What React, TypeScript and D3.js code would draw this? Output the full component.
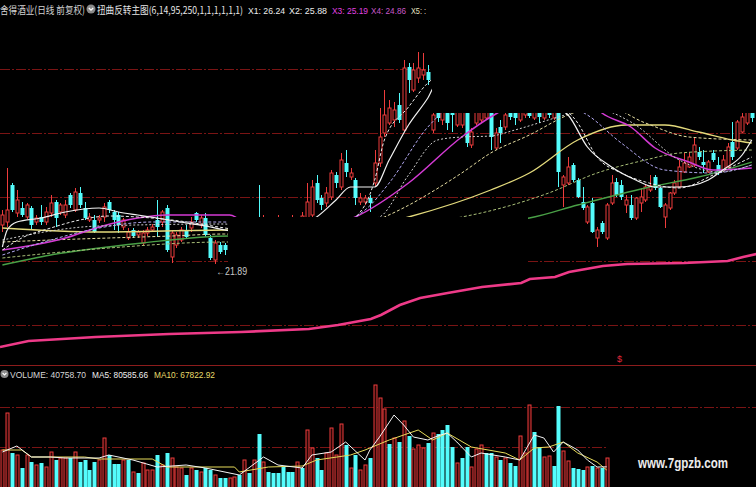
import React from "react";
import * as d3 from "d3";

const WIDTH = 756;
const HEIGHT = 487;

// daily K-line: [open, high, low, close]
const candles: [number, number, number, number][] = [
  [23.45, 24.05, 23.17, 23.85], [23.57, 25.73, 23.37, 24.05], [25.05, 25.13, 23.97, 24.05], [23.93, 24.85, 23.77, 24.45],
  [24.13, 24.37, 23.77, 23.85], [23.77, 24.33, 23.69, 24.25], [24.13, 24.21, 23.25, 23.45], [23.57, 23.85, 23.45, 23.73],
  [23.77, 24.25, 23.45, 23.57], [23.57, 24.17, 23.45, 23.97], [23.93, 24.65, 23.77, 24.33], [24.37, 24.45, 23.37, 23.73],
  [23.97, 24.33, 23.85, 24.25], [23.85, 24.45, 23.73, 24.25], [24.65, 24.73, 24.13, 24.25], [24.05, 24.93, 23.97, 24.77],
  [24.73, 24.97, 24.13, 24.25], [24.13, 24.37, 23.65, 23.73], [23.65, 23.93, 23.57, 23.77], [23.65, 23.85, 23.13, 23.17],
  [23.65, 23.85, 23.53, 23.73], [23.77, 24.33, 23.57, 24.17], [24.37, 24.45, 23.93, 24.05], [23.97, 24.05, 23.25, 23.65],
  [23.85, 23.97, 23.13, 23.45], [23.37, 23.73, 23.25, 23.65], [22.93, 23.33, 22.85, 23.17], [23.25, 23.33, 22.93, 23.01],
  [23.05, 23.25, 22.93, 23.17], [22.73, 23.25, 22.65, 23.13], [23.13, 23.37, 23.01, 23.25], [23.25, 23.49, 23.17, 23.37],
  [23.65, 24.45, 22.97, 23.37], [23.57, 24.05, 23.37, 23.97], [24.13, 24.25, 22.37, 22.45], [22.17, 23.25, 21.93, 23.13],
  [22.65, 23.17, 22.53, 23.05], [22.85, 23.37, 22.77, 23.25], [23.25, 23.45, 22.93, 22.97], [23.33, 23.77, 23.17, 23.57],
  [23.93, 23.97, 23.57, 23.65], [23.45, 23.85, 23.33, 23.73], [23.73, 23.93, 22.97, 23.05], [22.93, 23.05, 22.05, 22.13],
  [22.05, 22.85, 21.89, 22.73], [22.65, 22.77, 22.29, 22.37], [22.65, 22.73, 22.25, 22.45], [22.45, 23.05, 22.25, 22.85],
  [22.85, 23.13, 22.37, 22.53], [22.53, 23.25, 22.45, 22.93], [22.85, 23.45, 22.73, 23.17], [23.17, 23.41, 22.65, 22.77],
  [22.77, 23.57, 22.65, 23.25], [23.17, 25.05, 22.77, 22.93], [22.93, 23.85, 22.85, 23.33], [23.33, 23.65, 22.85, 23.05],
  [23.01, 23.61, 22.93, 23.33], [23.25, 23.85, 23.13, 23.45], [23.45, 23.65, 23.01, 23.17], [23.17, 23.65, 23.01, 23.41],
  [23.33, 23.85, 23.17, 23.57], [23.49, 23.69, 23.09, 23.25], [23.25, 23.97, 23.05, 23.81], [23.45, 25.13, 23.25, 24.37],
  [23.85, 25.25, 23.73, 24.97], [25.13, 25.45, 24.33, 24.45], [24.53, 24.65, 24.05, 24.25], [24.33, 24.97, 24.17, 24.73],
  [24.57, 25.65, 24.45, 25.53], [25.45, 25.57, 24.93, 25.13], [24.97, 26.33, 24.85, 26.05], [25.93, 26.45, 25.37, 25.57],
  [25.37, 25.73, 25.25, 25.53], [25.25, 25.33, 24.25, 24.53], [24.37, 24.73, 24.25, 24.53], [24.37, 24.65, 24.25, 24.53],
  [24.53, 24.65, 23.97, 24.33], [25.13, 26.45, 24.97, 25.93], [25.93, 28.13, 25.77, 26.97], [27.13, 28.85, 26.97, 27.85],
  [27.53, 28.45, 27.45, 28.13], [27.65, 28.37, 27.37, 28.05], [28.25, 28.73, 27.53, 27.65], [27.25, 30.05, 27.17, 29.73],
  [29.77, 29.93, 28.73, 29.25], [28.85, 29.93, 28.77, 29.65], [29.33, 30.37, 29.13, 29.73], [29.45, 30.33, 29.25, 29.65],
  [29.57, 29.85, 29.05, 29.25], [27.25, 28.25, 27.13, 27.85], [28.13, 28.45, 27.57, 27.73], [27.65, 28.45, 27.45, 27.97],
  [28.25, 28.65, 27.25, 27.53], [28.13, 28.45, 27.17, 27.85], [27.45, 28.45, 27.37, 28.05], [27.45, 28.45, 27.33, 27.97],
  [28.05, 28.25, 26.57, 26.73], [26.65, 27.33, 26.53, 27.17], [27.53, 28.45, 27.45, 28.13], [27.65, 28.45, 27.57, 28.05],
  [27.73, 28.45, 27.65, 28.13], [28.25, 28.45, 26.45, 26.97], [26.53, 27.33, 26.45, 27.13], [27.37, 27.65, 26.73, 27.13],
  [27.37, 28.25, 27.25, 27.85], [28.05, 28.25, 27.65, 27.77], [27.97, 28.13, 27.45, 27.73], [27.65, 28.45, 27.57, 28.05],
  [27.85, 28.53, 27.73, 28.25], [28.13, 28.45, 27.73, 27.81], [27.73, 28.45, 27.65, 28.13], [28.05, 28.37, 27.53, 27.77],
  [27.73, 28.45, 27.65, 28.13], [28.25, 28.45, 27.73, 27.85], [27.73, 28.45, 27.65, 28.13], [28.25, 28.45, 24.97, 25.57],
  [25.05, 25.45, 24.17, 25.37], [25.13, 26.17, 25.05, 25.77], [25.85, 25.93, 25.17, 25.25], [25.25, 25.33, 24.53, 24.57],
  [24.37, 24.97, 24.05, 24.13], [23.57, 24.25, 23.49, 24.17], [24.33, 24.53, 23.13, 23.17], [22.93, 23.37, 22.57, 23.25],
  [23.53, 23.61, 23.09, 23.17], [22.93, 24.33, 22.85, 24.25], [24.33, 25.45, 24.25, 25.13], [25.17, 25.33, 24.57, 24.65],
  [25.05, 25.25, 24.45, 24.57], [24.25, 24.65, 23.93, 24.45], [24.25, 24.65, 23.65, 23.73], [23.73, 24.57, 23.65, 24.53],
  [24.33, 24.93, 23.97, 24.57], [24.45, 25.05, 24.37, 24.97], [24.85, 25.45, 24.77, 25.01], [25.37, 25.45, 24.85, 24.93],
  [24.93, 24.97, 24.13, 24.17], [23.77, 24.33, 23.33, 24.25], [24.13, 24.77, 24.05, 24.73], [24.73, 25.25, 24.65, 25.13],
  [24.97, 26.05, 24.93, 25.77], [25.57, 26.33, 25.53, 25.93], [25.77, 26.37, 25.73, 26.17], [25.85, 26.97, 25.77, 26.65],
  [26.37, 26.57, 26.05, 26.17], [25.97, 26.45, 25.53, 25.85], [25.57, 26.05, 25.53, 25.97], [26.33, 26.45, 25.97, 26.05],
  [25.85, 26.17, 25.45, 25.57], [25.65, 26.25, 25.57, 26.05], [25.77, 26.73, 25.73, 26.57], [26.77, 27.57, 26.05, 26.17],
  [26.53, 27.65, 26.45, 27.57], [27.17, 27.93, 27.13, 27.77], [27.53, 28.45, 27.45, 28.13], [28.13, 28.45, 27.57, 27.73],
];

// indicator lines as [bar index, price] samples
const lineFastSolid: [number, number][] = [
  [0, 22.57], [1, 23.25], [3, 23.57], [8, 23.73], [13, 23.97], [20, 24.13], [24, 23.97], [28, 23.85], [32, 23.73],
  [38, 23.53], [42, 23.41], [46, 23.25], [53, 23.09], [59, 23.25], [62, 23.45], [65, 23.77], [69, 24.45], [72, 24.97],
  [77, 24.97], [80, 26.05], [84, 27.45], [88, 28.53], [90, 29.17], [95, 29.25], [99, 28.93], [103, 28.77], [107, 28.65],
  [112, 28.37], [117, 27.85], [121, 26.57], [126, 25.77], [131, 25.25], [135, 24.97], [140, 24.97], [146, 25.25],
  [149, 25.65], [153, 26.25], [155, 26.85],
];
const lineFastDash: [number, number][] = [
  [0, 22.45], [4, 22.93], [10, 23.33], [16, 23.65], [22, 23.81], [28, 23.77], [35, 23.65], [41, 23.49], [46, 23.33],
  [53, 23.17], [62, 23.33], [70, 23.45], [75, 24.25], [77, 25.25], [79, 26.85], [84, 28.17], [88, 29.13], [93, 29.65],
  [103, 29.45], [111, 28.65], [119, 27.53], [123, 26.17], [128, 25.53], [133, 25.17], [140, 24.93], [147, 25.45], [155, 26.17],
];
const lineLavender: [number, number][] = [
  [0, 22.25], [10, 22.85], [20, 23.33], [31, 23.57], [46, 23.57], [53, 23.05], [62, 23.05], [75, 24.05], [80, 25.13],
  [88, 27.37], [95, 28.45], [107, 28.77], [117, 28.25], [121, 27.85], [128, 26.73], [137, 25.65], [147, 25.53], [155, 25.85],
];
const lineGreyDash: [number, number][] = [
  [0, 22.85], [20, 23.41], [46, 23.49], [53, 23.01], [62, 23.09], [78, 23.77], [84, 25.45], [90, 26.85], [95, 26.97],
  [101, 27.01], [106, 27.25], [115, 27.77], [122, 28.13], [130, 27.57], [140, 26.05], [148, 25.57], [155, 25.85],
];
const lineMagenta: [number, number][] = [
  [0, 22.45], [13, 22.93], [20, 23.37], [28, 23.73], [34, 23.85], [47, 23.85], [53, 23.17], [62, 23.17], [73, 23.77],
  [84, 25.13], [95, 26.97], [101, 27.77], [109, 28.45], [121, 28.45], [124, 27.93], [130, 27.37], [135, 26.53],
  [142, 25.97], [147, 25.65], [155, 25.73],
];
const lineYellowDash: [number, number][] = [
  [0, 22.77], [10, 22.85], [22, 22.93], [35, 23.01], [46, 23.09], [53, 22.85], [68, 23.05], [79, 23.77], [95, 25.53],
  [101, 26.33], [109, 27.05], [117, 27.85], [124, 28.25], [133, 27.53], [142, 26.97], [155, 26.85],
];
const lineYellow: [number, number][] = [
  [0, 23.33], [20, 23.17], [47, 23.25], [62, 22.93], [84, 23.77], [101, 24.85], [109, 25.53], [119, 26.85], [129, 27.45],
  [137, 27.45], [144, 27.17], [151, 26.85], [155, 26.73],
];
const lineOliveDash: [number, number][] = [
  [0, 22.13], [22, 22.53], [46, 22.77], [62, 22.65], [95, 23.77], [99, 23.93], [113, 24.73], [123, 25.53], [133, 26.05],
  [140, 26.33], [155, 26.45],
];
const lineGreen: [number, number][] = [
  [0, 21.85], [10, 22.25], [29, 22.73], [47, 23.01], [62, 23.01], [82, 23.33], [99, 23.57], [109, 23.73], [119, 24.25],
  [133, 24.93], [144, 25.37], [155, 25.97],
];
const lineLong: [number, number][] = [
  [-0.5, 18.57], [5.4, 18.81], [19.3, 18.97], [34.5, 19.09], [49.3, 19.17], [63.4, 19.29], [69.4, 19.45], [76.2, 19.69],
  [78.3, 19.85], [82.2, 20.25], [86.4, 20.53], [92.1, 20.73], [99.2, 20.97], [107.3, 21.13], [109.1, 21.29], [114.3, 21.37],
  [117.2, 21.57], [124.2, 21.81], [129.2, 21.89], [141, 21.93], [150, 22.01], [153.2, 22.17], [156, 22.29],
];

// volume panel
const volumes = [
  148000, 296000, 136000, 128000, 76000, 128000, 100000, 88000, 96000, 80000,
  140000, 108000, 116000, 116000, 116000, 140000, 100000, 108000, 68000, 100000,
  108000, 196000, 128000, 92000, 92000, 108000, 108000, 60000, 56000, 96000,
  68000, 68000, 128000, 88000, 136000, 116000, 80000, 76000, 48000, 76000,
  68000, 60000, 76000, 68000, 48000, 36000, 36000, 36000, 40000, 48000,
  108000, 56000, 108000, 212000, 100000, 60000, 56000, 56000, 80000, 60000,
  60000, 100000, 76000, 228000, 156000, 116000, 68000, 136000, 236000, 128000,
  252000, 168000, 76000, 128000, 68000, 88000, 116000, 408000, 356000, 312000,
  172000, 196000, 180000, 264000, 204000, 152000, 168000, 156000, 176000, 216000,
  212000, 228000, 248000, 160000, 96000, 116000, 160000, 80000, 152000, 168000,
  136000, 136000, 120000, 108000, 116000, 96000, 84000, 204000, 136000, 328000,
  220000, 160000, 120000, 124000, 84000, 324000, 144000, 104000, 76000, 72000,
  68000, 80000, 84000, 76000, 76000, 116000,
];
// r = up day, c = down day
const volumeDirections =
  "rrcrcrcrcr" + "rcrrcrcccc" + "rrcccrcrcr" + "rrcrcrrrcr" + "crccrccrrc" + "rcrcrccccc" +
  "crcrrccrrr" + "rcrcrrcrrr" + "crcrcrrrcr" + "ccccrccrrr" + "ccrcrccrrr" + "ccrrccrrcc" + "crcrcr";

const volMa5: [number, number][] = [
  [0, 140000], [3, 164000], [6, 120000], [10, 120000], [13, 116000], [20, 116000], [22, 128000], [27, 108000],
  [32, 80000], [38, 88000], [42, 76000], [49, 48000], [54, 120000], [57, 88000], [62, 76000], [64, 128000],
  [68, 140000], [71, 180000], [75, 108000], [76, 148000], [78, 200000], [81, 288000], [83, 248000], [85, 200000],
  [88, 188000], [90, 204000], [92, 216000], [94, 180000], [97, 120000], [99, 136000], [104, 120000], [107, 108000],
  [110, 208000], [112, 196000], [114, 140000], [116, 180000], [119, 148000], [121, 108000], [123, 80000], [125, 80585.66],
];
const volMa10: [number, number][] = [
  [0, 148000], [4, 148000], [6, 120000], [17, 120000], [20, 112000], [31, 112000], [34, 80000], [48, 80000],
  [49, 60000], [55, 80000], [62, 84000], [65, 108000], [72, 128000], [75, 148000], [80, 188000], [86, 228000],
  [89, 188000], [92, 216000], [97, 160000], [104, 136000], [107, 108000], [110, 156000], [113, 160000], [116, 180000],
  [119, 136000], [123, 100000], [125, 67822.92],
];

const gridPrices = [19.45, 22.01, 24.57, 27.13, 29.69];
const volumeGrid = [160000, 320000];
const lowMark = { index: 44, value: 21.89 };

const RED = "#ee3c3c";
const CYAN = "#54fcfc";
const GRID = "#7a1414";

export default function App() {
  const x = d3.scaleLinear().domain([0, 155]).range([2.4, 751.8]);
  const y = d3.scaleLinear().domain([20, 30]).range([311.25, 61.25]);
  const yv = d3.scaleLinear().domain([0, 400000]).range([487, 387]);

  const priceLine = d3
    .line<[number, number]>()
    .x((d) => x(d[0]))
    .y((d) => y(d[1]))
    .curve(d3.curveMonotoneX);
  const longLine = d3
    .line<[number, number]>()
    .x((d) => x(d[0]))
    .y((d) => y(d[1]));
  const volLine = d3
    .line<[number, number]>()
    .x((d) => x(d[0]))
    .y((d) => yv(d[1]));

  const indicatorLines = [
    { data: lineGreen, color: "#49a046", width: 1.3, dash: undefined },
    { data: lineOliveDash, color: "#a9bf78", width: 1, dash: "3 2" },
    { data: lineYellow, color: "#e3da7c", width: 1.3, dash: undefined },
    { data: lineYellowDash, color: "#e6dea2", width: 1, dash: "3 2" },
    { data: lineMagenta, color: "#d43ad4", width: 1.5, dash: undefined },
    { data: lineGreyDash, color: "#cfcfcf", width: 1, dash: "2 2" },
    { data: lineLavender, color: "#b2a8f0", width: 1, dash: "3 2" },
    { data: lineFastDash, color: "#ececec", width: 1, dash: "3 2" },
    { data: lineFastSolid, color: "#f2f2f2", width: 1.2, dash: undefined },
  ];

  const sans = "'Liberation Sans', 'DejaVu Sans', sans-serif";
  const cjk = "'Noto Sans CJK SC', 'Liberation Sans', sans-serif";

  return (
    <svg
      width={WIDTH}
      height={HEIGHT}
      style={{ position: "fixed", left: 0, top: 0, display: "block", background: "#000" }}
    >
      <rect x={0} y={0} width={WIDTH} height={HEIGHT} fill="#000" />

      {/* price grid */}
      {gridPrices.map((p) => (
        <line
          key={p}
          x1={0}
          x2={WIDTH}
          y1={Math.round(y(p)) + 0.5}
          y2={Math.round(y(p)) + 0.5}
          stroke={GRID}
          strokeDasharray="10 2 2 2"
        />
      ))}

      {/* candles */}
      {candles.map(([o, h, l, c], i) => {
        const up = c >= o;
        const col = up ? RED : CYAN;
        const cx = Math.round(x(i)) + 0.5;
        const top = y(Math.max(o, c));
        const bot = y(Math.min(o, c));
        return (
          <g key={i}>
            <line x1={cx} x2={cx} y1={y(h)} y2={top} stroke={col} />
            <line x1={cx} x2={cx} y1={bot} y2={y(l)} stroke={col} />
            {up ? (
              <rect x={cx - 1.5} y={top} width={3} height={Math.max(bot - top, 1)} fill="#000" stroke={col} />
            ) : (
              <rect x={cx - 2} y={top} width={4} height={Math.max(bot - top, 1)} fill={col} />
            )}
          </g>
        );
      })}

      {/* indicator lines */}
      {indicatorLines.map((ln, k) => (
        <path
          key={k}
          d={priceLine(ln.data) ?? ""}
          fill="none"
          stroke={ln.color}
          strokeWidth={ln.width}
          strokeDasharray={ln.dash}
        />
      ))}

      {/* blanked panes */}
      <rect x={228} y={217} width={300} height={55} fill="#000" />
      <rect x={432} y={18} width={324} height={95} fill="#000" />

      {/* long moving average */}
      <path d={longLine(lineLong) ?? ""} fill="none" stroke="#ee3a88" strokeWidth={2.6} />

      {/* low marker */}
      <text
        x={x(lowMark.index) + 1}
        y={y(lowMark.value) + 11}
        fill="#c8c8c8"
        fontSize={10}
        fontFamily={sans}
        textLength={31}
        lengthAdjust="spacingAndGlyphs"
      >
        {"←" + lowMark.value.toFixed(2)}
      </text>

      {/* title row */}
      <text x={0} y={14} fill="#d2d2d2" fontSize={10.5} fontFamily={cjk} textLength={85} lengthAdjust="spacingAndGlyphs">
        舍得酒业(日线 前复权)
      </text>
      <circle cx={91} cy={9} r={4.5} fill="#8a8a8a" />
      <path d="M88.8,8 L91,10.2 L93.2,8" fill="none" stroke="#fff" strokeWidth={1.2} />
      <text x={97} y={14} fill="#e6e6e6" fontSize={10} fontFamily={cjk} textLength={146} lengthAdjust="spacingAndGlyphs">
        扭曲反转主图(6,14,95,250,1,1,1,1,1,1)
      </text>
      <text x={248} y={14} fill="#ececec" fontSize={9.5} fontFamily={sans} textLength={37} lengthAdjust="spacingAndGlyphs">
        X1: 26.24
      </text>
      <text x={289} y={14} fill="#ececec" fontSize={9.5} fontFamily={sans} textLength={38} lengthAdjust="spacingAndGlyphs">
        X2: 25.88
      </text>
      <text x={332} y={14} fill="#e040e0" fontSize={9.5} fontFamily={sans} textLength={36} lengthAdjust="spacingAndGlyphs">
        X3: 25.19
      </text>
      <text x={371} y={14} fill="#c858c8" fontSize={9.5} fontFamily={sans} textLength={35} lengthAdjust="spacingAndGlyphs">
        X4: 24.86
      </text>
      <text x={411} y={14} fill="#e6e2c2" fontSize={9.5} fontFamily={sans} textLength={15} lengthAdjust="spacingAndGlyphs">
        X5: :
      </text>

      {/* panel divider */}
      <line x1={0} x2={WIDTH} y1={365.5} y2={365.5} stroke="#8c1c1c" />
      <text x={617} y={362} fill="#e0283c" fontSize={9} fontFamily={sans}>
        $
      </text>

      {/* volume grid */}
      {volumeGrid.map((v, k) => (
        <line
          key={v}
          x1={0}
          x2={k === 0 ? 608 : WIDTH}
          y1={Math.round(yv(v)) + 0.5}
          y2={Math.round(yv(v)) + 0.5}
          stroke={GRID}
          strokeDasharray="10 2 2 2"
        />
      ))}

      {/* volume bars */}
      {volumes.map((v, i) => {
        const up = volumeDirections[i] === "r";
        const cx = Math.round(x(i)) + 0.5;
        const top = yv(v);
        return up ? (
          <rect key={i} x={cx - 1.5} y={top} width={3} height={HEIGHT - top + 2} fill="#2a0505" stroke={RED} />
        ) : (
          <rect key={i} x={cx - 2} y={top} width={4} height={HEIGHT - top} fill={CYAN} />
        );
      })}
      <path d={volLine(volMa10) ?? ""} fill="none" stroke="#e8dc5a" strokeWidth={1} />
      <path d={volLine(volMa5) ?? ""} fill="none" stroke="#f4f4f4" strokeWidth={1} />

      {/* volume header */}
      <circle cx={4.5} cy={374} r={4} fill="#8a8a8a" />
      <path d="M2.6,373 L4.5,375 L6.4,373" fill="none" stroke="#fff" strokeWidth={1.1} />
      <text x={10} y={378} fill="#d6d6d6" fontSize={9.5} fontFamily={sans} textLength={76} lengthAdjust="spacingAndGlyphs">
        VOLUME: 40758.70
      </text>
      <text x={92} y={378} fill="#f0f0f0" fontSize={9.5} fontFamily={sans} textLength={56} lengthAdjust="spacingAndGlyphs">
        MA5: 80585.66
      </text>
      <text x={154} y={378} fill="#e8dc6a" fontSize={9.5} fontFamily={sans} textLength={61} lengthAdjust="spacingAndGlyphs">
        MA10: 67822.92
      </text>

      <text x={638} y={468} fill="#ececec" fontSize={14} fontWeight="bold" fontFamily={sans} textLength={90} lengthAdjust="spacingAndGlyphs">
        www.7gpzb.com
      </text>
    </svg>
  );
}
